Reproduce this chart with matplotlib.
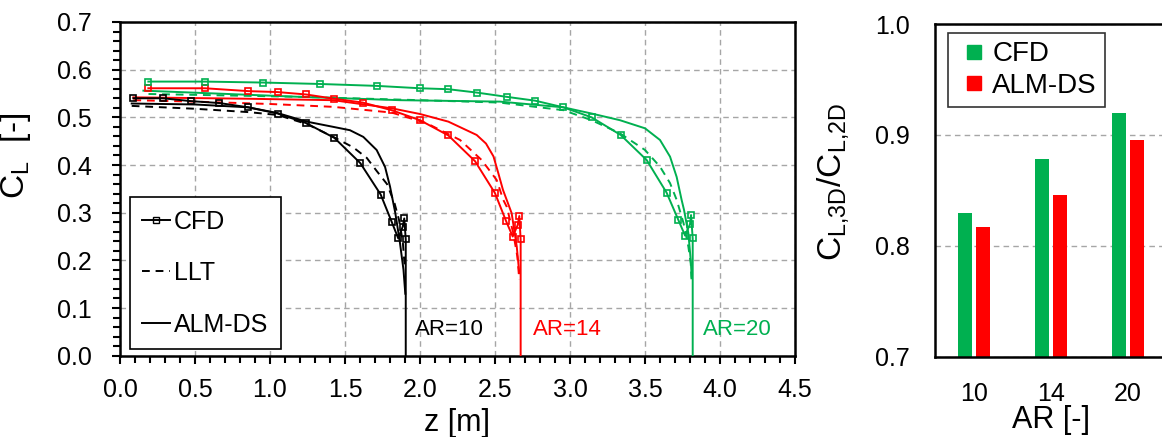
import matplotlib
matplotlib.use('Agg')
import matplotlib.pyplot as plt
from matplotlib.lines import Line2D
from matplotlib.ticker import MultipleLocator, FormatStrFormatter

plt.rcParams['font.family'] = ['Liberation Sans', 'DejaVu Sans']

# ---------------- data ----------------
# CFD (squares)
z_cfd_10 = [0.089, 0.285, 0.473, 0.662, 0.855, 1.051, 1.240, 1.429, 1.602, 1.738, 1.811, 1.855, 1.885, 1.895, 1.905, 1.905]
cl_cfd_10 = [0.540, 0.540, 0.534, 0.530, 0.521, 0.508, 0.488, 0.457, 0.404, 0.338, 0.281, 0.246, 0.271, 0.288, 0.244, 0.0]
z_cfd_14 = [0.189, 0.567, 0.855, 1.051, 1.240, 1.429, 1.618, 1.811, 2.000, 2.189, 2.367, 2.500, 2.573, 2.618, 2.651, 2.662, 2.671, 2.671]
cl_cfd_14 = [0.561, 0.561, 0.555, 0.553, 0.548, 0.539, 0.531, 0.515, 0.494, 0.462, 0.408, 0.341, 0.283, 0.250, 0.274, 0.293, 0.244, 0.0]
z_cfd_20 = [0.189, 0.567, 0.951, 1.333, 1.711, 2.000, 2.189, 2.378, 2.578, 2.767, 2.956, 3.144, 3.338, 3.511, 3.644, 3.722, 3.767, 3.800, 3.807, 3.818, 3.818]
cl_cfd_20 = [0.575, 0.575, 0.573, 0.570, 0.566, 0.561, 0.559, 0.552, 0.543, 0.535, 0.521, 0.500, 0.463, 0.4105, 0.342, 0.285, 0.252, 0.276, 0.295, 0.246, 0.0]

# LLT (dashed)
z_llt_10 = [0.078, 0.5, 0.855, 1.05, 1.245, 1.422, 1.555, 1.645, 1.71, 1.78, 1.83, 1.86, 1.885, 1.9]
cl_llt_10 = [0.524, 0.518, 0.511, 0.505, 0.486, 0.459, 0.437, 0.415, 0.388, 0.36, 0.32, 0.285, 0.24, 0.18]
z_llt_14 = [0.089, 0.5, 1.0, 1.422, 1.811, 2.045, 2.267, 2.411, 2.511, 2.555, 2.578, 2.622, 2.649, 2.662]
cl_llt_14 = [0.536, 0.533, 0.528, 0.522, 0.51, 0.4875, 0.4525, 0.4105, 0.3686, 0.327, 0.3126, 0.257, 0.208, 0.159]
z_llt_20 = [0.19, 1.2, 2.0, 2.53, 2.956, 3.144, 3.333, 3.5, 3.6, 3.667, 3.711, 3.757, 3.789, 3.805, 3.81]
cl_llt_20 = [0.549, 0.543, 0.536, 0.531, 0.515, 0.494, 0.4665, 0.4315, 0.3965, 0.362, 0.327, 0.278, 0.229, 0.194, 0.159]

# ALM-DS (solid)
z_alm_10 = [0.078, 0.5, 0.855, 1.05, 1.245, 1.422, 1.533, 1.622, 1.711, 1.767, 1.80, 1.835, 1.865, 1.89, 1.902]
cl_alm_10 = [0.529, 0.527, 0.521, 0.509, 0.491, 0.480, 0.473, 0.459, 0.4315, 0.396, 0.355, 0.30, 0.24, 0.18, 0.13]
z_alm_14 = [0.089, 0.855, 1.422, 1.811, 2.0, 2.189, 2.378, 2.440, 2.490, 2.522, 2.553, 2.611, 2.645, 2.662]
cl_alm_14 = [0.542, 0.539, 0.536, 0.519, 0.507, 0.491, 0.463, 0.445, 0.418, 0.383, 0.348, 0.299, 0.229, 0.173]
z_alm_20 = [0.156, 1.2, 1.867, 2.533, 2.956, 3.144, 3.333, 3.5, 3.6, 3.667, 3.711, 3.744, 3.76, 3.789, 3.805, 3.811]
cl_alm_20 = [0.556, 0.543, 0.536, 0.533, 0.521, 0.508, 0.494, 0.477, 0.4525, 0.4175, 0.375, 0.327, 0.306, 0.257, 0.2, 0.166]

ar_labels = ['AR=10', 'AR=14', 'AR=20']
ar_label_x = [1.967, 2.753, 3.887]

# bar chart
ar_cats = ['10', '14', '20']
ratio_cfd = [0.830, 0.878, 0.920]
ratio_alm = [0.817, 0.846, 0.895]

# ---------------- style ----------------
BLACK = '#000000'
RED = '#FF0000'
GREEN = '#00B050'
GRID = '#A6A6A6'
colors = [BLACK, RED, GREEN]

W, H = 1162, 437
fig = plt.figure(figsize=(W / 100, H / 100), dpi=100)
ax = fig.add_axes([120 / W, (H - 355.7) / H, 675 / W, 333.7 / H])
ax2 = fig.add_axes([935 / W, (H - 356.7) / H, 232 / W, 332.7 / H])

cfd = [(z_cfd_10, cl_cfd_10), (z_cfd_14, cl_cfd_14), (z_cfd_20, cl_cfd_20)]
llt = [(z_llt_10, cl_llt_10), (z_llt_14, cl_llt_14), (z_llt_20, cl_llt_20)]
alm = [(z_alm_10, cl_alm_10), (z_alm_14, cl_alm_14), (z_alm_20, cl_alm_20)]

for c, (zc, cc), (zl, cll), (za, ca) in zip(colors, cfd, llt, alm):
    ax.plot(zl, cll, color=c, lw=1.4, ls=(0, (4, 3)), zorder=3)
    ax.plot(za, ca, color=c, lw=1.4, ls='-', zorder=3)
    ax.plot(zc, cc, color=c, lw=1.4, ls='-', marker='s', markersize=5,
            markerfacecolor='none', markeredgewidth=1.2,
            markevery=slice(0, len(zc) - 1), zorder=4)

for lab, xpos, c in zip(ar_labels, ar_label_x, colors):
    ax.text(xpos, 0.054, lab, color=c, fontsize=16, va='center', ha='left')

ax.set_xlim(0, 4.5)
ax.set_ylim(0, 0.7)
ax.xaxis.set_major_locator(MultipleLocator(0.5))
ax.xaxis.set_minor_locator(MultipleLocator(0.1))
ax.yaxis.set_major_locator(MultipleLocator(0.1))
ax.yaxis.set_minor_locator(MultipleLocator(0.02))
ax.xaxis.set_major_formatter(FormatStrFormatter('%.1f'))
ax.yaxis.set_major_formatter(FormatStrFormatter('%.1f'))
ax.grid(True, which='major', color=GRID, ls=(0, (4, 3)), lw=1.0, zorder=0)
ax.set_axisbelow(True)
ax.tick_params(which='both', direction='out', width=1.5, color='black')
ax.tick_params(which='major', length=6, labelsize=18)
ax.tick_params(axis='x', which='major', pad=10)
ax.tick_params(axis='y', which='major', pad=14)
ax.tick_params(which='minor', length=5)
for s in ax.spines.values():
    s.set_linewidth(1.8)

ax.set_xlabel('z [m]', fontsize=22)
ax.xaxis.set_label_coords(0.5, -0.157)
ax.set_ylabel(r'C$_\mathregular{L}$  [-]', fontsize=24)
ax.yaxis.set_label_coords(-0.129, 0.6)

handles = [
    Line2D([], [], color=BLACK, lw=1.4, marker='s', markersize=4,
           markerfacecolor='none', markeredgewidth=1.0),
    Line2D([], [], color=BLACK, lw=1.4, ls=(0, (4, 3))),
    Line2D([], [], color=BLACK, lw=1.4),
]
leg = ax.legend(handles, ['CFD', 'LLT', 'ALM-DS'], loc='lower left',
                bbox_to_anchor=(0.0148, 0.02), borderaxespad=0,
                fontsize=18, frameon=True, fancybox=False, edgecolor='black',
                handlelength=1.1, handletextpad=0.15, labelspacing=1.1,
                borderpad=0.5, numpoints=1)
leg.get_frame().set_linewidth(1.2)
leg.get_frame().set_alpha(1)

# ---------------- bar chart ----------------
xs = list(range(len(ar_cats)))
bw = 0.17
ax2.bar([x - 0.117 for x in xs], ratio_cfd, width=bw, color=GREEN, zorder=2)
ax2.bar([x + 0.117 for x in xs], ratio_alm, width=bw, color=RED, zorder=2)
ax2.set_xlim(-0.506, 2.506)
ax2.set_ylim(0.7, 1.0)
ax2.set_xticks(xs)
ax2.set_xticklabels(ar_cats)
ax2.set_yticks([0.7, 0.8, 0.9, 1.0])
ax2.yaxis.set_major_formatter(FormatStrFormatter('%.1f'))
ax2.yaxis.grid(True, color=GRID, ls=(0, (4, 3)), lw=1.0, zorder=0)
ax2.set_axisbelow(True)
ax2.tick_params(length=0, labelsize=18)
ax2.tick_params(axis='y', pad=18)
ax2.tick_params(axis='x', pad=18)
for s in ax2.spines.values():
    s.set_linewidth(1.8)
ax2.set_xlabel('AR [-]', fontsize=22)
ax2.xaxis.set_label_coords(0.5, -0.145)
ax2.set_ylabel(r'$\mathregular{C_{L{,}3D}/C_{L{,}2D}}$', fontsize=24)
ax2.yaxis.set_label_coords(-0.36, 0.527)

bar_handles = [
    Line2D([], [], ls='none', marker='s', markersize=10, color=GREEN),
    Line2D([], [], ls='none', marker='s', markersize=10, color=RED),
]
leg2 = ax2.legend(bar_handles, ['CFD', 'ALM-DS'],
                  loc='upper left', bbox_to_anchor=(0.056, 0.973), borderaxespad=0,
                  fontsize=20, frameon=True, fancybox=False, edgecolor='black',
                  handlelength=1.3, handletextpad=0.0, numpoints=1,
                  labelspacing=0.2, borderpad=0.3)
leg2.get_frame().set_linewidth(1.2)

fig.savefig('out.png', dpi=100)
